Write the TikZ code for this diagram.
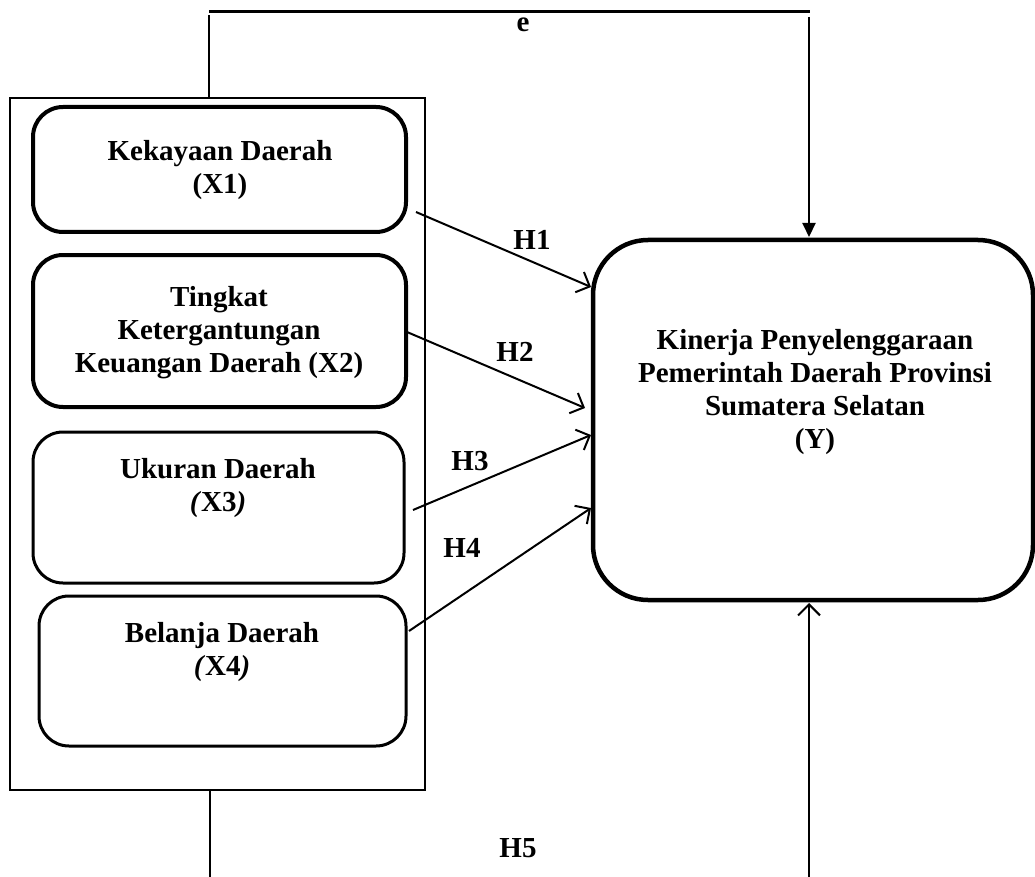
\documentclass[tikz,border=0pt]{standalone}
\usepackage{fontspec}
\setmainfont{Liberation Serif}
\usetikzlibrary{arrows.meta}
\begin{document}
\begin{tikzpicture}[x=1pt,y=-1pt,
  font=\fontsize{29}{33}\selectfont\bfseries,
  varbox/.style={draw, line width=4pt, rounded corners=30pt, inner sep=0pt},
  thinbox/.style={varbox, line width=3pt},
  ybox/.style={draw, line width=4.5pt, rounded corners=55pt, inner sep=0pt},
  txt/.style={align=center, inner sep=0pt},
  lbl/.style={inner sep=0pt},
  conn/.style={line width=2pt},
  harr/.style={conn, -{Straight Barb[length=11pt,width=22pt,line width=2pt]}},
  farr/.style={conn, -{Triangle[length=14pt,width=13pt]}}]
\useasboundingbox (0,0) rectangle (1035,877);

% outer frame
\node[draw, line width=1.5pt, minimum width=415pt, minimum height=692pt, inner sep=0pt] (outer) at (217.5,444) {};

% variable boxes
\node[varbox, minimum width=373pt, minimum height=125pt] (x1) at (219.5,169.5) {};
\node[varbox, minimum width=373pt, minimum height=152pt] (x2) at (219.5,331) {};
\node[thinbox, minimum width=371pt, minimum height=151pt] (x3) at (218.5,507.5) {};
\node[thinbox, minimum width=367pt, minimum height=150pt] (x4) at (222.5,671) {};
\node[ybox, minimum width=440pt, minimum height=360pt] (y) at (813,420) {};

% texts
\node[txt] (t1) at (220,170) {Kekayaan Daerah\\(X1)};
\node[txt] (t2) at (219,333) {Tingkat\\Ketergantungan\\Keuangan Daerah (X2)};
\node[txt] (t3) at (218,488) {Ukuran Daerah\\\textit{(}X3\textit{)}};
\node[txt] (t4) at (222,652) {Belanja Daerah\\\textit{(}X4\textit{)}};
\node[txt] (ty) at (815,392) {Kinerja Penyelenggaraan\\Pemerintah Daerah Provinsi\\Sumatera Selatan\\(Y)};

% labels
\node[lbl] (le) at (523,25) {e};
\node[lbl] (h1) at (532,240) {H1};
\node[lbl] (h2) at (515,352) {H2};
\node[lbl] (h3) at (470,461) {H3};
\node[lbl] (h4) at (462,548) {H4};
\node[lbl] (h5) at (518,848) {H5};

% coordinates
\coordinate (s1) at (416,212);
\coordinate (e1) at (591,287);
\coordinate (s2) at (407,332);
\coordinate (e2) at (585,408);
\coordinate (s3) at (413,510);
\coordinate (e3) at (591,435);
\coordinate (s4) at (409,631);
\coordinate (e4) at (591,508);
\coordinate (ttop) at (209,98);
\coordinate (tup) at (209,15);
\coordinate (tl) at (209,12);
\coordinate (tr) at (810,12);
\coordinate (ds) at (809,17);
\coordinate (de) at (809,237);
\coordinate (bl1) at (210,790);
\coordinate (bl2) at (210,877);
\coordinate (br1) at (809,877);
\coordinate (br2) at (809,603);

% connectors
\draw[harr] (s1) -- (e1);
\draw[harr] (s2) -- (e2);
\draw[harr] (s3) -- (e3);
\draw[harr] (s4) -- (e4);
\draw[line width=1.5pt] (ttop) -- (tup);
\draw[line width=3pt] (tl) -- (tr);
\draw[farr] (ds) -- (de);
\draw[line width=1.5pt] (bl1) -- (bl2);
\draw[harr] (br1) -- (br2);
\end{tikzpicture}
\end{document}
